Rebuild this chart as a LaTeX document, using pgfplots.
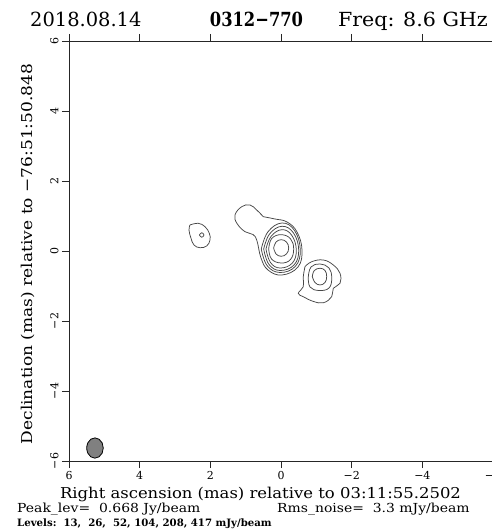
\documentclass[border=0pt]{standalone}
\usepackage{fontspec}
\setmainfont{DejaVu Serif}
\usepackage{pgfplots}
\pgfplotsset{compat=1.18}
\begin{document}
\begin{tikzpicture}[x=1bp,y=1bp]
\useasboundingbox (-69,-70) rectangle (423,461);
\clip (-69,-70) rectangle (423,461);
\begin{axis}[
  at={(0,0)}, anchor=south west,
  scale only axis, width=424bp, height=420bp,
  x dir=reverse,
  xmin=-6, xmax=6, ymin=-6, ymax=6,
  xtick={-6,-4,-2,0,2,4,6},
  xticklabels={−6,−4,−2,0,2,4,6},
  ytick={-6,-4,-2,0,2,4,6},
  yticklabels={−6,−4,−2,0,2,4,6},
  tick align=outside,
  major tick length=7bp,
  minor tick num=0,
  axis line style={black!85, line width=0.8bp},
  tick style={black!85, line width=0.8bp},
  ticklabel style={font=\fontsize{11}{13}\selectfont},
  yticklabel style={rotate=90, anchor=south},
  cont/.style={black!72, line width=0.75bp, smooth, tension=0.7, mark=none},
]
% core: lowest contour also encloses the north-west extension
\addplot[cont] coordinates {
  (0.501,0.980) (0.170,0.914) (-0.170,0.829) (-0.453,0.543) (-0.594,0.029)
  (-0.481,-0.457) (-0.028,-0.686) (0.368,-0.543) (0.566,-0.200) (0.679,0.286)
  (0.793,0.471) (1.019,0.551) (1.245,0.786) (1.302,1.029) (1.112,1.266)
  (0.877,1.314) (0.688,1.171) (0.501,0.980)};
\addplot[cont] coordinates {
  (0.558,0.057) (0.368,0.549) (-0.028,0.800) (-0.385,0.583) (-0.546,0.029)
  (-0.405,-0.440) (0.028,-0.614) (0.393,-0.417) (0.558,0.057)};
\addplot[cont] coordinates {
  (0.490,0.057) (0.323,0.486) (-0.028,0.706) (-0.354,0.514) (-0.501,0.029)
  (-0.371,-0.397) (0.028,-0.557) (0.345,-0.377) (0.490,0.057)};
\addplot[cont] coordinates {
  (0.425,0.057) (0.280,0.420) (-0.028,0.609) (-0.306,0.446) (-0.433,0.029)
  (-0.320,-0.346) (0.028,-0.486) (0.300,-0.326) (0.425,0.057)};
\addplot[cont] coordinates {
  (0.348,0.063) (0.263,0.357) (-0.006,0.466) (-0.269,0.349) (-0.359,0.057)
  (-0.269,-0.243) (-0.006,-0.343) (0.269,-0.229) (0.348,0.063)};
\addplot[cont] coordinates {
  (0.207,0.086) (0.144,0.254) (-0.006,0.323) (-0.156,0.254) (-0.218,0.086)
  (-0.156,-0.083) (-0.006,-0.151) (0.144,-0.083) (0.207,0.086)};
% south-east component
\addplot[cont] coordinates {
  (-0.679,-0.449) (-0.869,-0.306) (-1.197,-0.257) (-1.480,-0.400) (-1.670,-0.637)
  (-1.670,-0.923) (-1.480,-1.066) (-1.435,-1.306) (-1.197,-1.480) (-0.914,-1.440)
  (-0.631,-1.306) (-0.490,-1.209) (-0.631,-1.020) (-0.631,-0.734) (-0.679,-0.449)};
\addplot[cont] coordinates {
  (-0.773,-0.743) (-0.849,-0.457) (-1.104,-0.371) (-1.359,-0.486) (-1.435,-0.771)
  (-1.359,-1.057) (-1.076,-1.129) (-0.821,-1.029) (-0.773,-0.743)};
\addplot[cont] coordinates {
  (-0.886,-0.729) (-0.943,-0.557) (-1.104,-0.494) (-1.245,-0.557) (-1.293,-0.729)
  (-1.245,-0.900) (-1.104,-0.971) (-0.962,-0.900) (-0.886,-0.729)};
% north-east knot
\addplot[cont] coordinates {
  (2.576,0.743) (2.341,0.791) (2.151,0.694) (2.029,0.506) (2.010,0.314)
  (2.103,0.143) (2.293,0.094) (2.462,0.171) (2.547,0.363) (2.604,0.600) (2.576,0.743)};
\addplot[cont] coordinates {
  (2.310,0.457) (2.245,0.522) (2.180,0.457) (2.245,0.392) (2.310,0.457)};
% restoring beam
\addplot[black, line width=0.8bp, fill=black!50, smooth, tension=0.7, mark=none] coordinates {
  (5.500,-5.629) (5.469,-5.484) (5.383,-5.378) (5.265,-5.339) (5.148,-5.378)
  (5.061,-5.484) (5.030,-5.629) (5.061,-5.774) (5.148,-5.880) (5.265,-5.919)
  (5.383,-5.880) (5.469,-5.774) (5.500,-5.629)};
\end{axis}
% header
\node[anchor=base west, inner sep=0] at (-39,434)
  {\fontsize{19.5}{22}\selectfont 2018.08.14};
\node[anchor=base, inner sep=0] at (187.5,434)
  {\scalebox{0.84}[1]{\fontsize{19.5}{22}\selectfont\bfseries 0312−770}};
\node[anchor=base east, inner sep=0] at (419,434)
  {\scalebox{1.06}[1]{\fontsize{19.5}{22}\selectfont Freq: 8.6 GHz}};
% axis titles
\node[anchor=base, inner sep=0] at (191.5,-37)
  {\scalebox{1.1}[1]{\fontsize{15}{18}\selectfont Right ascension (mas) relative to 03:11:55.2502}};
\node[anchor=base, rotate=90, inner sep=0] at (-36,207)
  {\scalebox{1.14}[1]{\fontsize{15}{18}\selectfont Declination (mas) relative to −76:51:50.848}};
% map statistics
\node[anchor=base west, inner sep=0] at (-52,-51)
  {\scalebox{1.12}[1]{\fontsize{12.5}{14}\selectfont Peak\_lev=\ \ 0.668 Jy/beam}};
\node[anchor=base west, inner sep=0] at (208,-51)
  {\scalebox{1.12}[1]{\fontsize{12.5}{14}\selectfont Rms\_noise=\ \ 3.3 mJy/beam}};
\node[anchor=base west, inner sep=0] at (-52,-65)
  {\fontsize{10.2}{12}\selectfont\bfseries Levels:\ \ 13,\ \ 26,\ \ 52, 104, 208, 417 mJy/beam};
\end{tikzpicture}
\end{document}
